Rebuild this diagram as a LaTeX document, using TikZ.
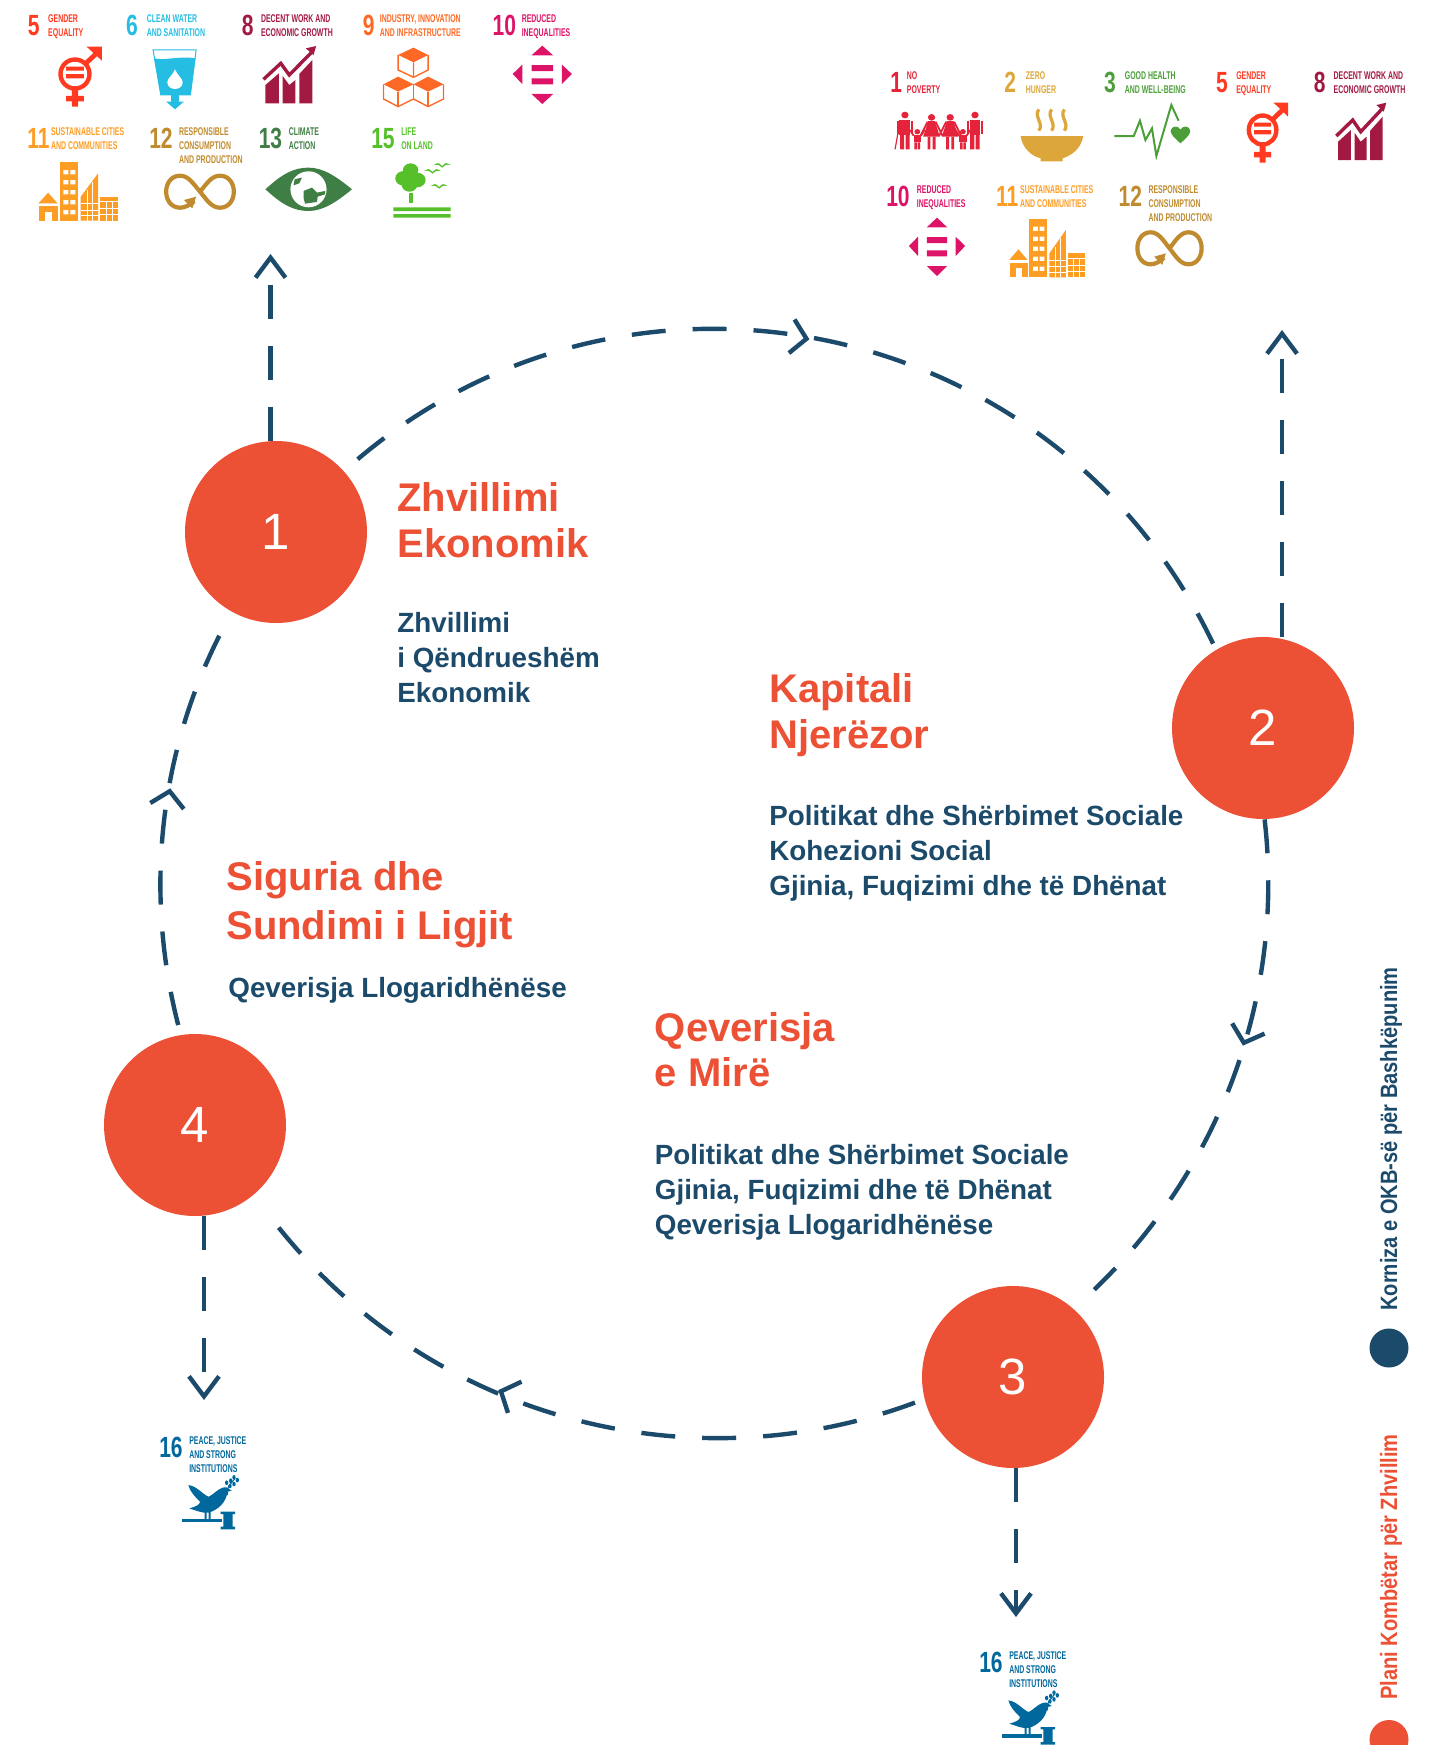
\documentclass[tikz,border=0pt]{standalone}
\usepackage{fontspec}
\setmainfont{Liberation Sans}
\newfontfamily\sidefont[FakeStretch=0.85]{Liberation Sans}
\usetikzlibrary{arrows.meta,decorations.markings}
\definecolor{redcirc}{HTML}{EC5035}
\definecolor{navy}{HTML}{1C4A6B}
\definecolor{sdgone}{HTML}{E5243B}
\definecolor{sdgtwo}{HTML}{DDA63A}
\definecolor{sdgthree}{HTML}{4C9F38}
\definecolor{sdgfive}{HTML}{FF3A21}
\definecolor{sdgsix}{HTML}{26BDE2}
\definecolor{sdgeight}{HTML}{A21942}
\definecolor{sdgnine}{HTML}{FD6925}
\definecolor{sdgten}{HTML}{DD1367}
\definecolor{sdgeleven}{HTML}{FD9D24}
\definecolor{sdgtwelve}{HTML}{BF8B2E}
\definecolor{sdgthirteen}{HTML}{3F7E44}
\definecolor{sdgfifteen}{HTML}{56C02B}
\definecolor{sdgsixteen}{HTML}{00689D}
\newcommand{\sdghead}[7]{%
\draw (#2,#3+21) node (#1n) [sdgnum,text=#6] {#5};
\draw (#4,#3) node (#1t) [sdgtitle,text=#6] {#7};
}
\tikzset{
chevron/.style={decoration={markings,mark=at position #1 with {\arrow{Straight Barb[length=7.5pt,width=17pt]}}}},
gender/.pic={
\draw[sdgfive,line width=2.2pt] (0,0) ellipse (37.7 and 43.5);
\fill[sdgfive] (-23,-22) rectangle (23,-10) (-23,0) rectangle (23,13);
\fill[sdgfive] (-8,46) rectangle (8,98) (-23,66) rectangle (23,82);
\draw[sdgfive,line width=2.4pt] (28,-32) -- (60,-66);
\fill[sdgfive] (30,-82) -- (70,-82) -- (70,-40) -- cycle;
},
water/.pic={
\draw[sdgsix,line width=.5pt] (-57,-85) -- (55,-85) -- (40,50) -- (-37,50) -- cycle;
\fill[sdgsix] (-54,-60) .. controls (-25,-52) and (10,-68) .. (53,-60) -- (40,50) -- (-37,50) -- cycle;
\fill[white] (0,-27) .. controls (-5,-10) and (-20,0) .. (-20,12) .. controls (-20,25) and (-10,32) .. (0,32) .. controls (10,32) and (20,25) .. (20,12) .. controls (20,0) and (5,-10) .. (0,-27);
\fill[sdgsix] (-10,50) rectangle (10,70) (-23,70) -- (23,70) -- (0,93) -- cycle;
},
growth/.pic={
\draw[sdgeight,line width=1.7pt] (-65,-2) -- (-20,-50) -- (2,-15) -- (60,-83);
\fill[sdgeight] (72,-102) -- (45,-95) -- (65,-75) -- cycle;
\fill[sdgeight] (-60,70) -- (-25,70) -- (-25,-20) -- (-60,15) -- cycle;
\fill[sdgeight] (-15,70) -- (18,70) -- (18,0) -- (2,15) -- (-15,-12) -- cycle;
\fill[sdgeight] (28,70) -- (62,70) -- (62,-60) -- (28,-18) -- cycle;
},
blocks/.pic={
\fill[sdgnine] (0,-92) -- (38,-70) -- (0,-48) -- (-40,-70) -- cycle;
\fill[sdgnine] (-40,-5) -- (0,18) -- (-40,40) -- (-78,18) -- cycle;
\fill[sdgnine] (38,-5) -- (78,18) -- (38,40) -- (0,18) -- cycle;
\draw[sdgnine,line width=.7pt] (-40,-70) -- (-40,-25) -- (0,-3) -- (38,-25) -- (38,-70) (0,-48) -- (0,-3);
\draw[sdgnine,line width=.7pt] (-78,18) -- (-78,62) -- (-40,85) -- (0,62) -- (38,85) -- (78,62) -- (78,18);
\draw[sdgnine,line width=.7pt] (-40,40) -- (-40,85) (0,18) -- (0,62) (38,40) -- (38,85);
},
reduced/.pic={
\fill[sdgten] (0,-85) -- (-28,-56) -- (28,-56) -- cycle;
\fill[sdgten] (0,90) -- (-28,60) -- (28,60) -- cycle;
\fill[sdgten] (-77,0) -- (-52,-28) -- (-52,30) -- cycle;
\fill[sdgten] (77,0) -- (51,-28) -- (51,30) -- cycle;
\fill[sdgten] (-28,-27) rectangle (28,-9) (-28,13) rectangle (28,31);
},
cities/.pic={
\fill[sdgeleven] (-80,3) -- (-105,35) -- (-55,35) -- cycle;
\fill[sdgeleven] (-103,43) rectangle (-55,87);
\fill[white] (-87,60) rectangle (-70,87);
\fill[sdgeleven] (-50,-88) rectangle (-2,87);
\foreach \wy in {-65,-35,-5,25,55} {
\fill[white] (-40,\wy) rectangle (-27,\wy+13) (-22,\wy) rectangle (-9,\wy+13);
}
\fill[sdgeleven] (5,87) -- (5,15) -- (50,-55) -- (50,87) -- cycle;
\draw[white,line width=.45pt] (5,35) -- (50,35) (5,55) -- (50,55) (5,72) -- (50,72) (22,-5) -- (22,87) (36,-30) -- (36,87);
\fill[sdgeleven] (55,15) rectangle (103,87);
\draw[white,line width=.45pt] (55,30) -- (103,30) (55,50) -- (103,50) (55,68) -- (103,68) (72,30) -- (72,87) (87,30) -- (87,87);
},
infinity/.pic={
\draw[sdgtwelve,line width=2.1pt] (-15,28) .. controls (-25,40) and (-40,48) .. (-52,48) .. controls (-75,48) and (-88,25) .. (-88,0) .. controls (-88,-25) and (-75,-48) .. (-52,-48) .. controls (-30,-48) and (-18,-25) .. (0,0) .. controls (18,25) and (30,48) .. (52,48) .. controls (75,48) and (88,25) .. (88,0) .. controls (88,-25) and (75,-48) .. (52,-48) .. controls (30,-48) and (18,-25) .. (0,0);
\fill[sdgtwelve] (-10,15) -- (-42,25) -- (-20,50) -- cycle;
},
eyeball/.pic={
\fill[sdgthirteen] (-112,0) .. controls (-67,-48) and (-37,-65) .. (0,-65) .. controls (38,-65) and (73,-38) .. (113,0) .. controls (73,38) and (38,65) .. (0,65) .. controls (-37,65) and (-67,48) .. (-112,0) -- cycle;
\fill[white] (0,0) ellipse (47 and 54);
\fill[sdgthirteen] (-36,-30) -- (-17,-35) -- (-24,-18) -- (-39,-12) -- cycle;
\fill[sdgthirteen] (-13,5) -- (9,-5) -- (22,10) -- (43,5) -- (43,15) -- (24,22) -- (22,38) -- (-9,43) -- (-13,25) -- cycle;
},
trees/.pic={
\fill[sdgfifteen] (-27,-65) circle (20) (-45,-40) circle (22) (-10,-35) circle (22) (-30,-20) circle (20);
\fill[sdgfifteen] (-32,5) rectangle (-22,35);
\fill[sdgfifteen] (-72,47) rectangle (77,58) (-72,67) rectangle (77,78);
\foreach \bx/\by in {30/-62,55/-80,47/-17} {
\fill[sdgfifteen] (\bx-22,\by) .. controls (\bx-10,\by-8) .. (\bx,\by+3) .. controls (\bx+10,\by-8) .. (\bx+22,\by) .. controls (\bx+10,\by-2) .. (\bx,\by+8) .. controls (\bx-10,\by-2) .. cycle;
}
},
family/.pic={
\foreach \px in {-97,95} {
\fill[sdgone] (\px,-50) circle (10);
\fill[sdgone] (\px-15,-36) rectangle (\px+15,10);
\fill[sdgone] (\px-13,10) rectangle (\px-2,53) (\px+2,10) rectangle (\px+13,53);
\draw[sdgone,line width=.9pt] (\px-20,-32) -- (\px-20,8) (\px+20,-32) -- (\px+20,8);
}
\foreach \px in {-24,27} {
\fill[sdgone] (\px,-43) circle (10);
\fill[sdgone] (\px-9,-32) -- (\px+9,-32) -- (\px+23,15) -- (\px-23,15) -- cycle;
\fill[sdgone] (\px-11,15) rectangle (\px-3,53) (\px+3,15) rectangle (\px+11,53);
\draw[sdgone,line width=.9pt] (\px-11,-30) -- (\px-30,12) (\px+11,-30) -- (\px+30,12);
}
\foreach \px in {-63,62} {
\fill[sdgone] (\px,0) circle (8);
\fill[sdgone] (\px-10,10) rectangle (\px+10,32);
\fill[sdgone] (\px-8,32) rectangle (\px-1,53) (\px+1,32) rectangle (\px+8,53);
\draw[sdgone,line width=.9pt] (\px-10,12) -- (\px-20,-5) (\px+10,12) -- (\px+20,-5);
}
\draw[sdgone,line width=.6pt] (-112,-20) -- (-124,53);
},
soup/.pic={
\fill[sdgtwo] (-85,-2) -- (87,-2) .. controls (80,40) and (50,58) .. (30,65) -- (30,74) -- (-30,74) -- (-30,65) .. controls (-55,58) and (-80,35) .. (-85,-2) -- cycle;
\foreach \sx in {-35,0,35} {
\draw[sdgtwo,line width=1.6pt] (\sx,-82) .. controls (\sx-15,-60) and (\sx+15,-40) .. (\sx,-18);
}
},
pulse/.pic={
\draw[sdgthree,line width=1pt] (-88,13) -- (-35,13) -- (-18,-33) -- (-3,25) -- (15,-10) -- (27,73) -- (68,-80) -- (88,-33);
\fill[sdgthree] (93,35) .. controls (70,12) and (62,2) .. (68,-8) .. controls (72,-18) and (88,-18) .. (93,-6) .. controls (98,-18) and (114,-18) .. (118,-8) .. controls (124,2) and (116,12) .. (93,35) -- cycle;
},
dove/.pic={
\fill[sdgsixteen] (-65,-65) .. controls (-40,-62) and (-25,-40) .. (-5,-30) .. controls (10,-35) and (30,-62) .. (50,-58) -- (65,-48) -- (52,-45) .. controls (50,-15) and (25,10) .. (-5,18) .. controls (-25,20) and (-45,10) .. (-62,5) .. controls (-45,0) and (-30,-5) .. (-30,-15) .. controls (-45,-30) and (-60,-45) .. (-65,-65) -- cycle;
\fill[sdgsixteen] (-16,15) rectangle (-10,38) (-4,15) rectangle (2,38);
\fill[sdgsixteen] (-85,37) rectangle (35,47);
\fill[sdgsixteen] (32,15) rectangle (75,22) (32,60) rectangle (75,68) (40,22) rectangle (68,60);
\draw[sdgsixteen,line width=.5pt] (52,-35) -- (55,-60) -- (75,-85);
\foreach \lx/\ly in {50/-72,60/-62,62/-78,72/-68,72/-88,82/-80} {
\fill[sdgsixteen] (\lx,\ly) ellipse (5 and 7);
}
}
}
\begin{document}
\begin{tikzpicture}[x=.5pt,y=-.5pt,every pic/.style={scale=.3333}]
\tikzstyle{numcirc}=[circle,fill=redcirc,text=white,minimum size=91pt,inner sep=0pt,font=\fontsize{25.5}{25.5}\selectfont]
\tikzstyle{dashline}=[navy,line width=2.2pt,dash pattern=on 17pt off 13.5pt]
\tikzstyle{dasharrow}=[dashline,-{Straight Barb[length=10pt,width=15pt]}]
\tikzstyle{arcline}=[dashline,postaction={decorate}]
\tikzstyle{headtxt}=[anchor=north west,inner sep=0pt,align=left,text=redcirc,font=\fontsize{20}{22.6}\selectfont\bfseries]
\tikzstyle{bodytxt}=[anchor=north west,inner sep=0pt,align=left,text=navy,font=\fontsize{13.9}{17.5}\selectfont\bfseries]
\tikzstyle{sidetxt}=[anchor=base west,rotate=90,inner sep=0pt,font=\fontsize{11.8}{11.8}\sidefont\bfseries]
\tikzstyle{sdgnum}=[anchor=base west,inner sep=0pt,xscale=.72,transform shape,font=\fontsize{14.6}{14.6}\selectfont\bfseries]
\tikzstyle{sdgtitle}=[anchor=north west,inner sep=0pt,align=left,xscale=.62,transform shape,font=\fontsize{5.6}{7}\selectfont\bfseries]
\tikzstyle{pica}=[xscale=1.154]
\tikzstyle{picb}=[xscale=1.095]
\useasboundingbox (0,0) rectangle (1429,1745);
\draw (276,532) node (n1) [numcirc] {1};
\draw (1263,728) node (n2) [numcirc] {2};
\draw (1013,1377) node (n3) [numcirc] {3};
\draw (195,1125) node (n4) [numcirc] {4};
\coordinate (a1) at (270.5,254);
\coordinate (a2) at (1282,330);
\coordinate (a3) at (1016,1617);
\coordinate (a4) at (204,1400);
\draw[arcline,shorten <=9pt,chevron=.484] (n1.42.5) .. controls (635.7,224.3) and (1062.4,318.1) .. (n2.121);
\draw[arcline,shorten >=14pt,chevron=.42] (n2.271) .. controls (1284.8,994.1) and (1221.2,1167.2) .. (n3.48);
\draw[arcline,shorten <=5pt,shorten >=13pt,chevron=.58] (n3.194.6) .. controls (682.2,1489.3) and (419.6,1413.6) .. (n4.310);
\draw[arcline,shorten <=5pt,shorten >=10pt,chevron=.57] (n4.99.4) .. controls (143.9,891.2) and (159.4,750.6) .. (n1.241);
\draw[dasharrow] (a1 |- n1.north) -- (a1);
\draw[dasharrow] (a2 |- n2.north) -- (a2);
\draw[dasharrow] (a3 |- n3.south) -- (a3);
\draw[dasharrow] (a4 |- n4.south) -- (a4);
\draw (397,482.5) node (h1) [headtxt] {Zhvillimi\\Ekonomik};
\draw (397,612) node (b1) [bodytxt] {Zhvillimi\\i Qëndrueshëm\\Ekonomik};
\draw (769,673.5) node (h2) [headtxt] {Kapitali\\Njerëzor};
\draw (769,805) node (b2) [bodytxt] {Politikat dhe Shërbimet Sociale\\Kohezioni Social\\Gjinia, Fuqizimi dhe të Dhënat};
\draw (226,861) node (h3) [headtxt,font=\fontsize{20}{24.5}\selectfont\bfseries] {Siguria dhe\\Sundimi i Ligjit};
\draw (228,977) node (b3) [bodytxt] {Qeverisja Llogaridhënëse};
\draw (654.5,1012) node (h4) [headtxt] {Qeverisja\\e Mirë};
\draw (654.5,1144) node (b4) [bodytxt] {Politikat dhe Shërbimet Sociale\\Gjinia, Fuqizimi dhe të Dhënat\\Qeverisja Llogaridhënëse};
\draw (1397,1311) node (s1) [sidetxt,text=navy] {Korniza e OKB-së për Bashkëpunim};
\draw (1397,1700) node (s2) [sidetxt,text=redcirc] {Plani Kombëtar për Zhvillim};
\draw (1389,1348) node (d1) [circle,fill=navy,minimum size=19.5pt,inner sep=0pt] {};
\draw (1389,1739.5) node (d2) [circle,fill=redcirc,minimum size=19.5pt,inner sep=0pt] {};
\sdghead{ga}{27.7}{14}{48}{5}{sdgfive}{GENDER\\EQUALITY}
\sdghead{gb}{125.8}{14}{146.5}{6}{sdgsix}{CLEAN WATER\\AND SANITATION}
\sdghead{gc}{241.5}{14}{260.8}{8}{sdgeight}{DECENT WORK AND\\ECONOMIC GROWTH}
\sdghead{gd}{362.7}{14}{379.6}{9}{sdgnine}{INDUSTRY, INNOVATION\\AND INFRASTRUCTURE}
\sdghead{ge}{492.3}{14}{521.5}{10}{sdgten}{REDUCED\\INEQUALITIES}
\sdghead{gf}{27}{127}{50.8}{11}{sdgeleven}{SUSTAINABLE CITIES\\AND COMMUNITIES}
\sdghead{gg}{149}{127}{178.8}{12}{sdgtwelve}{RESPONSIBLE\\CONSUMPTION\\AND PRODUCTION}
\sdghead{gh}{258.5}{127}{288.5}{13}{sdgthirteen}{CLIMATE\\ACTION}
\sdghead{gi}{371}{127}{401}{15}{sdgfifteen}{LIFE\\ON LAND}
\sdghead{ha}{890}{71}{906.7}{1}{sdgone}{NO\\POVERTY}
\sdghead{hb}{1004}{71}{1025.7}{2}{sdgtwo}{ZERO\\HUNGER}
\sdghead{hc}{1103.8}{71}{1124.6}{3}{sdgthree}{GOOD HEALTH\\AND WELL-BEING}
\sdghead{hd}{1215.8}{71}{1236}{5}{sdgfive}{GENDER\\EQUALITY}
\sdghead{he}{1313.6}{71}{1333.4}{8}{sdgeight}{DECENT WORK AND\\ECONOMIC GROWTH}
\sdghead{hf}{886}{185}{916.6}{10}{sdgten}{REDUCED\\INEQUALITIES}
\sdghead{hg}{995.8}{185}{1019.9}{11}{sdgeleven}{SUSTAINABLE CITIES\\AND COMMUNITIES}
\sdghead{hh}{1118.4}{185}{1148.3}{12}{sdgtwelve}{RESPONSIBLE\\CONSUMPTION\\AND PRODUCTION}
\sdghead{ia}{159}{1436}{189}{16}{sdgsixteen}{PEACE, JUSTICE\\AND STRONG\\INSTITUTIONS}
\sdghead{ib}{979}{1651}{1009}{16}{sdgsixteen}{PEACE, JUSTICE\\AND STRONG\\INSTITUTIONS}
\pic[pica] at (75,74) {gender};
\pic[pica] at (175,78.3) {water};
\pic[pica] at (288.5,80) {growth};
\pic[pica] at (413.5,78.3) {blocks};
\pic[pica] at (542.3,74) {reduced};
\pic[pica] at (78.8,191.7) {cities};
\pic[pica] at (200,191.7) {infinity};
\pic[pica] at (308.5,189.3) {eyeball};
\pic[pica] at (421,191.7) {trees};
\pic[picb] at (940.3,131.7) {family};
\pic[picb] at (1051.6,136.7) {soup};
\pic[picb] at (1146.5,131.7) {pulse};
\pic[picb] at (1262.6,130) {gender};
\pic[picb] at (1360,136.7) {growth};
\pic[picb] at (937,246) {reduced};
\pic[picb] at (1047.6,248.3) {cities};
\pic[picb] at (1169.5,248.3) {infinity};
\pic at (210,1506.7) {dove};
\pic at (1030,1722) {dove};
\end{tikzpicture}
\end{document}
